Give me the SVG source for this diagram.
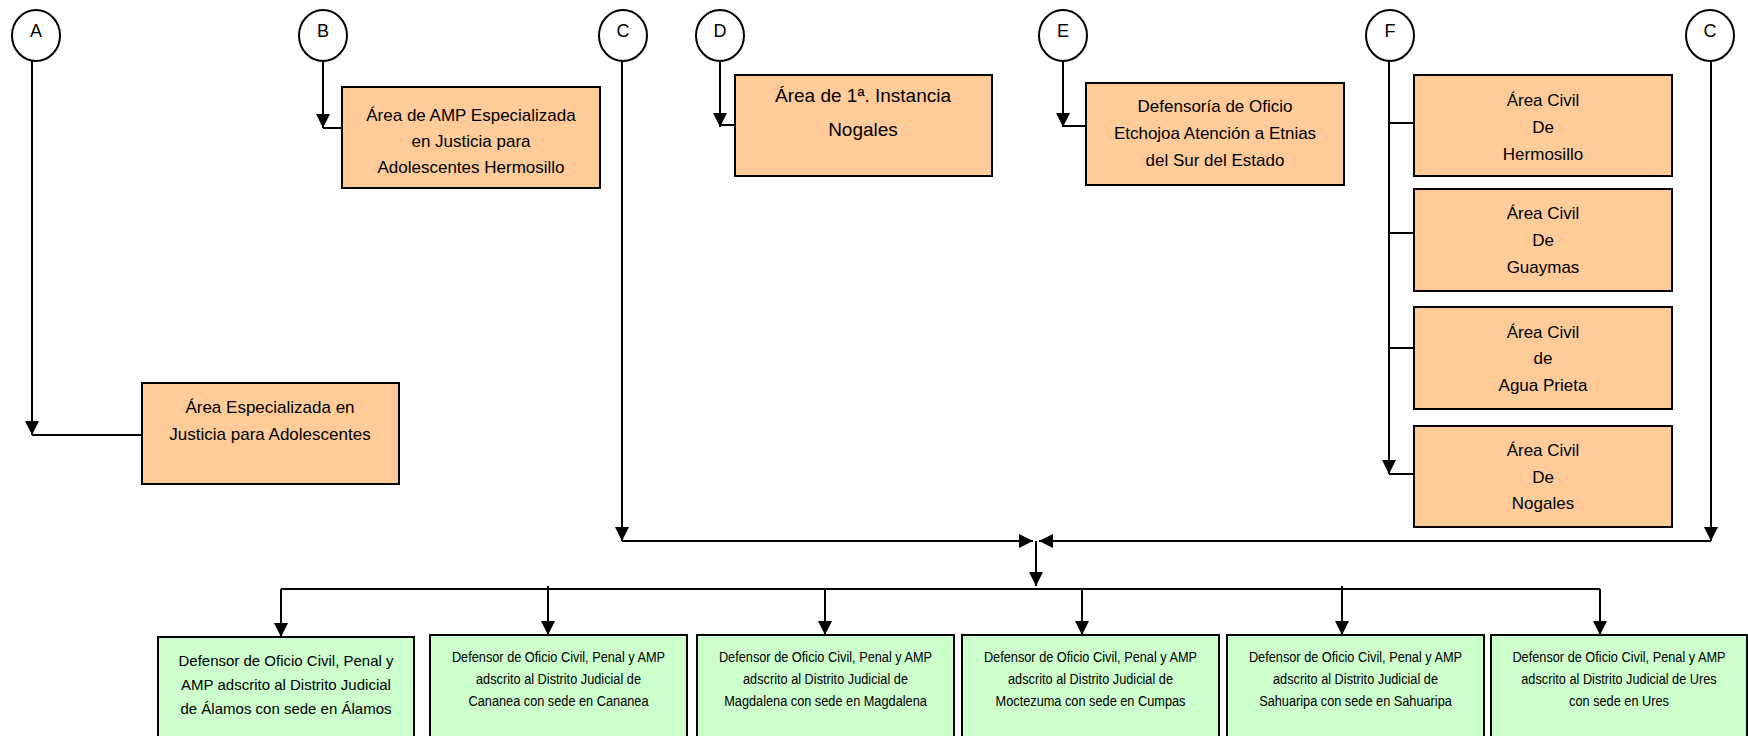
<svg xmlns="http://www.w3.org/2000/svg" width="1748" height="736" viewBox="0 0 1748 736">
<defs>
<marker id="ah" markerUnits="userSpaceOnUse" markerWidth="14" markerHeight="14" refX="14" refY="7" orient="auto" viewBox="0 0 14 14">
<path d="M0,0 L14,7 L0,14 z" fill="#000"/>
</marker>
</defs>
<style>
.c{fill:#fff;stroke:#000;stroke-width:2}
.o{fill:#FFCC99;stroke:#000;stroke-width:2}
.g{fill:#CCFFCC;stroke:#000;stroke-width:2}
.ln{fill:none;stroke:#000;stroke-width:2}
.ar{fill:none;stroke:#000;stroke-width:2;marker-end:url(#ah)}
text{font-family:"Liberation Sans",Arial,sans-serif;fill:#000;text-anchor:middle}
.lb{font-size:18px}
.t{font-size:17px}
.t19{font-size:19px}
.g1{font-size:15px}
.g2{font-size:14.5px}
</style>
<rect width="1748" height="736" fill="#fff"/>
<g id="connectors">
<path class="ar" d="M32,61 V435"/>
<path class="ln" d="M32,435 H142"/>
<path class="ar" d="M323,61 V128"/>
<path class="ln" d="M323,128 H342"/>
<path class="ar" d="M622,61 V541"/>
<path class="ar" d="M622,541 H1033"/>
<path class="ar" d="M720,61 V127"/>
<path class="ln" d="M720,125 H735"/>
<path class="ar" d="M1063,61 V127"/>
<path class="ln" d="M1063,126 H1086"/>
<path class="ar" d="M1389,61 V474"/>
<path class="ln" d="M1389,123 H1414 M1389,233 H1414 M1389,348 H1414 M1389,474 H1414"/>
<path class="ar" d="M1711,61 V541"/>
<path class="ar" d="M1711,541 H1039"/>
<path class="ar" d="M1036,541 V586"/>
<path class="ln" d="M281,589 H1600"/>
<path class="ar" d="M281,589 V637"/>
<path class="ar" d="M548,586 V635"/>
<path class="ar" d="M825,589 V635"/>
<path class="ar" d="M1082,589 V635"/>
<path class="ar" d="M1342,586 V635"/>
<path class="ar" d="M1600,589 V635"/>
</g>
<g id="conn-A"><ellipse class="c" cx="36" cy="35.5" rx="24" ry="25.5"/><text class="lb" x="36" y="37">A</text></g>
<g id="conn-B"><ellipse class="c" cx="323" cy="35.5" rx="24" ry="25.5"/><text class="lb" x="323" y="37">B</text></g>
<g id="conn-C1"><ellipse class="c" cx="623" cy="35.5" rx="24" ry="25.5"/><text class="lb" x="623" y="37">C</text></g>
<g id="conn-D"><ellipse class="c" cx="720" cy="35.5" rx="24" ry="25.5"/><text class="lb" x="720" y="37">D</text></g>
<g id="conn-E"><ellipse class="c" cx="1063" cy="35.5" rx="24" ry="25.5"/><text class="lb" x="1063" y="37">E</text></g>
<g id="conn-F"><ellipse class="c" cx="1390" cy="35.5" rx="24" ry="25.5"/><text class="lb" x="1390" y="37">F</text></g>
<g id="conn-C2"><ellipse class="c" cx="1710" cy="35.5" rx="24" ry="25.5"/><text class="lb" x="1710" y="37">C</text></g>

<g id="area-adolescentes"><rect class="o" x="142" y="383" width="257" height="101"/>
<text class="t" x="270" y="413">Área Especializada en</text>
<text class="t" x="270" y="440">Justicia para Adolescentes</text></g>
<g id="area-amp-hermosillo"><rect class="o" x="342" y="87" width="258" height="101"/>
<text class="t" x="471" y="121">Área de AMP Especializada</text>
<text class="t" x="471" y="147">en Justicia para</text>
<text class="t" x="471" y="173">Adolescentes Hermosillo</text></g>
<g id="area-1a-nogales"><rect class="o" x="735" y="75" width="257" height="101"/>
<text class="t19" x="863" y="102">Área de 1ª. Instancia</text>
<text class="t19" x="863" y="136">Nogales</text></g>
<g id="defensoria-etchojoa"><rect class="o" x="1086" y="83" width="258" height="102"/>
<text class="t" x="1215" y="112">Defensoría de Oficio</text>
<text class="t" x="1215" y="139">Etchojoa Atención a Etnias</text>
<text class="t" x="1215" y="166">del Sur del Estado</text></g>
<g id="civil-hermosillo"><rect class="o" x="1414" y="75" width="258" height="101"/>
<text class="t" x="1543" y="106">Área Civil</text><text class="t" x="1543" y="133">De</text><text class="t" x="1543" y="160">Hermosillo</text></g>
<g id="civil-guaymas"><rect class="o" x="1414" y="189" width="258" height="102"/>
<text class="t" x="1543" y="219">Área Civil</text><text class="t" x="1543" y="246">De</text><text class="t" x="1543" y="273">Guaymas</text></g>
<g id="civil-agua-prieta"><rect class="o" x="1414" y="307" width="258" height="102"/>
<text class="t" x="1543" y="338">Área Civil</text><text class="t" x="1543" y="364">de</text><text class="t" x="1543" y="391">Agua Prieta</text></g>
<g id="civil-nogales"><rect class="o" x="1414" y="426" width="258" height="101"/>
<text class="t" x="1543" y="456">Área Civil</text><text class="t" x="1543" y="483">De</text><text class="t" x="1543" y="509">Nogales</text></g>

<g id="def-alamos"><rect class="g" x="158" y="637" width="256" height="110"/>
<text class="g1" x="286" y="666">Defensor de Oficio Civil, Penal y</text>
<text class="g1" x="286" y="690">AMP adscrito al Distrito Judicial</text>
<text class="g1" x="286" y="714">de Álamos con sede en Álamos</text></g>
<g id="def-cananea"><rect class="g" x="430" y="635" width="257" height="110"/>
<g transform="translate(558.5,0) scale(0.88,1)"><text class="g2" x="0" y="662">Defensor de Oficio Civil, Penal y AMP</text>
<text class="g2" x="0" y="684">adscrito al Distrito Judicial de</text>
<text class="g2" x="0" y="706">Cananea con sede en Cananea</text></g></g>
<g id="def-magdalena"><rect class="g" x="697" y="635" width="257" height="110"/>
<g transform="translate(825.5,0) scale(0.88,1)"><text class="g2" x="0" y="662">Defensor de Oficio Civil, Penal y AMP</text>
<text class="g2" x="0" y="684">adscrito al Distrito Judicial de</text>
<text class="g2" x="0" y="706">Magdalena con sede en Magdalena</text></g></g>
<g id="def-moctezuma"><rect class="g" x="962" y="635" width="257" height="110"/>
<g transform="translate(1090.5,0) scale(0.88,1)"><text class="g2" x="0" y="662">Defensor de Oficio Civil, Penal y AMP</text>
<text class="g2" x="0" y="684">adscrito al Distrito Judicial de</text>
<text class="g2" x="0" y="706">Moctezuma con sede en Cumpas</text></g></g>
<g id="def-sahuaripa"><rect class="g" x="1227" y="635" width="257" height="110"/>
<g transform="translate(1355.5,0) scale(0.88,1)"><text class="g2" x="0" y="662">Defensor de Oficio Civil, Penal y AMP</text>
<text class="g2" x="0" y="684">adscrito al Distrito Judicial de</text>
<text class="g2" x="0" y="706">Sahuaripa con sede en Sahuaripa</text></g></g>
<g id="def-ures"><rect class="g" x="1491" y="635" width="256" height="110"/>
<g transform="translate(1619,0) scale(0.88,1)"><text class="g2" x="0" y="662">Defensor de Oficio Civil, Penal y AMP</text>
<text class="g2" x="0" y="684">adscrito al Distrito Judicial de Ures</text>
<text class="g2" x="0" y="706">con sede en Ures</text></g></g>
</svg>
